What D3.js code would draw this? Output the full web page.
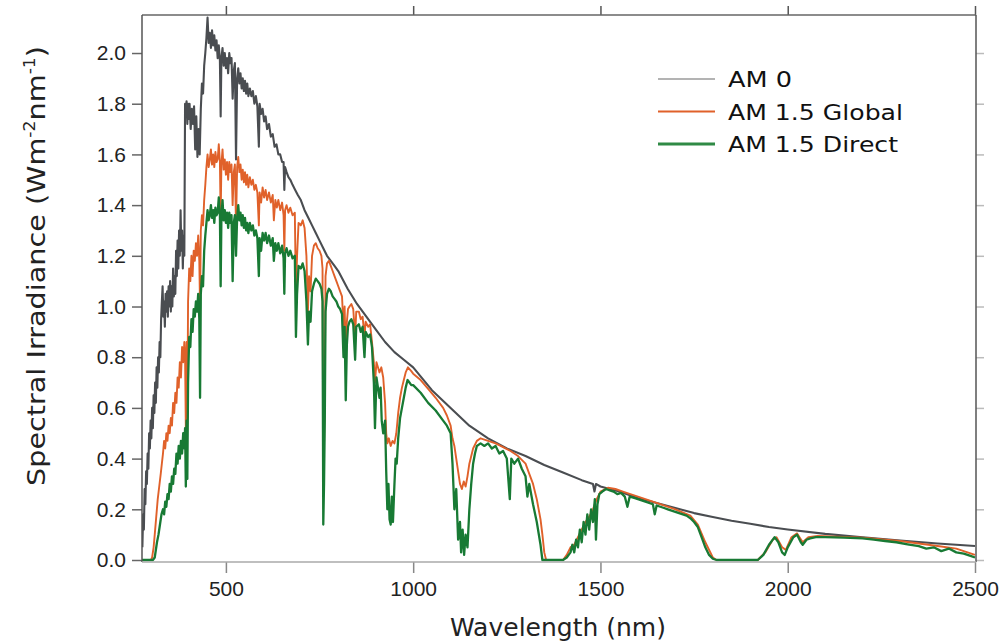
<!DOCTYPE html>
<html><head><meta charset="utf-8">
<script src="https://cdn.jsdelivr.net/npm/d3@7"></script>
<style>body{margin:0;background:#fff}svg{display:block}</style>
</head><body>
<svg id="c" width="1001" height="644"></svg>
<script>
// ---- data ----
const xTicks = [500, 1000, 1500, 2000, 2500];
const yTicks = [0, 0.2, 0.4, 0.6, 0.8, 1.0, 1.2, 1.4, 1.6, 1.8, 2.0];
const seriesNames = ["AM 0", "AM 1.5 Global", "AM 1.5 Direct"];
const xLabel = "Wavelength (nm)";

// [wavelength nm, spectral irradiance W m^-2 nm^-1]
const am0 = [[277,0.05],[279,0.18],[281,0.12],[283,0.28],[285,0.22],[287,0.35],[289,0.30],[291,0.42],[293,0.36],[295,0.50],[297,0.44],[299,0.55],[301,0.48],[303,0.60],[305,0.52],[307,0.65],[309,0.58],[311,0.70],[313,0.62],[315,0.76],[317,0.68],[319,0.80],[321,0.74],[323,0.86],[325,0.80],[327,0.95],[329,1.02],[331,1.08],[333,0.96],[335,1.02],[337,0.92],[339,1.05],[341,0.98],[343,1.06],[345,0.96],[347,1.08],[349,1.00],[351,1.10],[353,0.98],[355,1.08],[357,1.00],[359,1.15],[361,1.04],[363,1.12],[365,1.05],[367,1.22],[369,1.12],[371,1.26],[373,1.15],[375,1.30],[377,1.20],[379,1.38],[381,1.22],[383,1.30],[385,1.15],[387,1.28],[389,1.20],[391,1.80],[393,1.76],[395,1.81],[397,1.72],[399,1.80],[401,1.74],[403,1.80],[406,1.70],[409,1.78],[412,1.72],[415,1.79],[418,1.62],[421,1.75],[424,1.59],[427,1.70],[430,1.60],[433,1.78],[436,1.88],[439,1.84],[442,1.95],[445,2.00],[448,2.06],[451,2.14],[454,2.04],[457,2.08],[460,2.02],[463,2.09],[466,2.03],[469,2.07],[472,2.01],[475,2.05],[478,1.98],[481,2.03],[484,1.97],[486,1.75],[488,1.98],[491,2.02],[494,1.95],[497,2.00],[500,1.94],[503,1.98],[506,1.92],[509,2.00],[512,1.96],[515,1.98],[518,1.82],[521,1.93],[524,1.96],[527,1.58],[530,1.90],[533,1.94],[536,1.88],[539,1.92],[542,1.86],[545,1.90],[548,1.85],[551,1.89],[554,1.84],[557,1.88],[560,1.83],[564,1.86],[568,1.83],[572,1.85],[576,1.80],[580,1.83],[584,1.79],[588,1.63],[590,1.80],[594,1.76],[598,1.78],[602,1.73],[606,1.75],[610,1.70],[615,1.72],[620,1.67],[625,1.68],[630,1.63],[635,1.64],[640,1.60],[645,1.60],[650,1.57],[654,1.57],[656,1.46],[658,1.55],[662,1.53],[667,1.51],[672,1.50],[678,1.48],[685,1.46],[692,1.44],[700,1.42],[710,1.38],[720,1.35],[730,1.32],[740,1.29],[750,1.26],[760,1.23],[770,1.20],[780,1.18],[790,1.16],[800,1.14],[825,1.07],[850,1.01],[875,0.96],[900,0.91],[925,0.86],[950,0.82],[975,0.79],[1000,0.76],[1050,0.67],[1100,0.60],[1150,0.53],[1200,0.48],[1250,0.44],[1300,0.41],[1350,0.375],[1400,0.345],[1450,0.315],[1480,0.30],[1484,0.27],[1488,0.30],[1500,0.29],[1550,0.27],[1600,0.245],[1650,0.225],[1700,0.205],[1750,0.185],[1800,0.17],[1850,0.155],[1900,0.143],[1950,0.13],[2000,0.12],[2100,0.103],[2200,0.09],[2300,0.077],[2400,0.065],[2500,0.055]];

const amGlobal = [[276,0],[300,0],[303,0.01],[307,0.05],[310,0.10],[314,0.17],[318,0.24],[322,0.29],[326,0.34],[329,0.38],[332,0.42],[335,0.47],[338,0.44],[341,0.50],[344,0.47],[347,0.53],[350,0.50],[353,0.56],[356,0.53],[359,0.62],[362,0.58],[365,0.66],[368,0.62],[371,0.72],[374,0.68],[377,0.78],[380,0.72],[383,0.84],[386,0.78],[389,0.86],[391,0.80],[393,0.52],[395,0.86],[397,0.56],[399,1.02],[402,1.15],[405,1.10],[408,1.20],[411,1.12],[414,1.22],[417,1.18],[420,1.25],[423,1.20],[426,1.28],[429,1.18],[431,1.00],[433,1.30],[436,1.36],[439,1.32],[442,1.42],[445,1.48],[448,1.55],[451,1.60],[454,1.55],[457,1.58],[460,1.62],[463,1.56],[466,1.60],[469,1.55],[472,1.61],[475,1.57],[478,1.58],[481,1.64],[484,1.57],[486,1.35],[488,1.56],[491,1.62],[494,1.54],[497,1.58],[500,1.52],[503,1.57],[506,1.50],[509,1.57],[512,1.53],[515,1.56],[518,1.40],[521,1.53],[524,1.56],[527,1.32],[530,1.55],[533,1.59],[536,1.53],[539,1.56],[542,1.50],[545,1.54],[548,1.49],[551,1.53],[554,1.48],[557,1.52],[560,1.47],[564,1.51],[568,1.48],[572,1.50],[576,1.46],[580,1.48],[584,1.45],[588,1.32],[590,1.45],[594,1.41],[598,1.47],[602,1.43],[606,1.46],[610,1.42],[615,1.45],[620,1.41],[625,1.44],[628,1.34],[632,1.42],[636,1.39],[640,1.42],[645,1.38],[650,1.41],[654,1.36],[656,1.22],[658,1.38],[662,1.40],[667,1.37],[672,1.39],[678,1.36],[684,1.37],[687,1.05],[690,1.20],[694,1.33],[700,1.32],[705,1.34],[710,1.31],[715,1.20],[719,0.98],[722,1.12],[726,1.06],[730,1.20],[735,1.24],[740,1.25],[745,1.23],[750,1.22],[755,1.20],[758,1.15],[760,0.30],[762,0.45],[764,0.70],[766,1.12],[770,1.17],[775,1.18],[780,1.16],[785,1.14],[790,1.12],[795,1.10],[800,1.08],[805,1.06],[810,1.04],[814,0.92],[817,1.00],[820,0.80],[823,0.94],[826,0.99],[830,1.00],[835,1.01],[840,0.99],[845,0.88],[848,0.98],[855,0.98],[860,0.95],[865,0.96],[870,0.88],[873,0.94],[880,0.92],[885,0.93],[890,0.86],[895,0.78],[898,0.70],[902,0.78],[906,0.76],[910,0.74],[915,0.76],[920,0.72],[925,0.62],[928,0.50],[931,0.46],[935,0.48],[940,0.45],[945,0.47],[950,0.46],[955,0.50],[960,0.58],[965,0.64],[970,0.68],[975,0.71],[980,0.74],[986,0.76],[995,0.745],[1000,0.735],[1020,0.71],[1040,0.675],[1060,0.64],[1080,0.60],[1090,0.57],[1100,0.53],[1105,0.48],[1110,0.45],[1115,0.40],[1120,0.35],[1125,0.30],[1130,0.28],[1135,0.31],[1140,0.29],[1145,0.33],[1150,0.38],[1160,0.44],[1170,0.47],[1180,0.48],[1200,0.47],[1220,0.46],[1240,0.445],[1260,0.43],[1280,0.41],[1300,0.38],[1310,0.34],[1320,0.30],[1330,0.24],[1340,0.16],[1345,0.10],[1350,0.03],[1355,0],[1400,0],[1410,0.02],[1420,0.05],[1430,0.06],[1440,0.09],[1450,0.12],[1460,0.15],[1470,0.17],[1480,0.20],[1490,0.24],[1500,0.27],[1520,0.285],[1540,0.28],[1560,0.27],[1580,0.26],[1600,0.25],[1650,0.225],[1700,0.20],[1740,0.175],[1760,0.14],[1780,0.07],[1800,0.01],[1810,0],[1920,0],[1940,0.03],[1960,0.08],[1970,0.09],[1985,0.05],[1995,0.04],[2010,0.09],[2025,0.105],[2040,0.07],[2055,0.09],[2080,0.095],[2200,0.088],[2300,0.075],[2400,0.055],[2450,0.045],[2500,0.02]];

const amDirect = [[276,0],[305,0],[310,0.01],[316,0.07],[320,0.10],[324,0.14],[328,0.18],[332,0.20],[335,0.18],[338,0.23],[341,0.21],[344,0.26],[347,0.24],[350,0.30],[353,0.27],[356,0.33],[359,0.30],[362,0.36],[365,0.34],[368,0.42],[371,0.38],[374,0.45],[377,0.40],[380,0.47],[383,0.42],[386,0.50],[389,0.44],[391,0.52],[393,0.29],[395,0.55],[397,0.32],[399,0.70],[402,0.88],[405,0.84],[408,0.95],[411,0.90],[414,0.99],[417,0.96],[420,1.02],[423,0.98],[426,1.05],[429,0.95],[431,0.64],[433,1.05],[436,1.12],[439,1.08],[442,1.22],[445,1.28],[448,1.33],[451,1.38],[454,1.34],[457,1.36],[460,1.40],[463,1.35],[466,1.38],[469,1.33],[472,1.39],[475,1.36],[478,1.37],[481,1.43],[484,1.36],[486,1.08],[488,1.35],[491,1.42],[494,1.34],[497,1.38],[500,1.33],[503,1.37],[506,1.31],[509,1.37],[512,1.33],[515,1.36],[518,1.10],[521,1.33],[524,1.36],[527,1.20],[530,1.35],[533,1.40],[536,1.34],[539,1.37],[542,1.32],[545,1.36],[548,1.31],[551,1.35],[554,1.30],[557,1.33],[560,1.29],[564,1.33],[568,1.30],[572,1.32],[576,1.28],[580,1.30],[584,1.27],[588,1.12],[590,1.27],[594,1.22],[598,1.29],[602,1.26],[606,1.29],[610,1.25],[615,1.28],[620,1.24],[625,1.27],[628,1.18],[632,1.25],[636,1.22],[640,1.25],[645,1.21],[650,1.24],[654,1.19],[656,1.05],[658,1.21],[662,1.23],[667,1.20],[672,1.22],[678,1.19],[684,1.20],[687,0.88],[690,1.05],[694,1.16],[700,1.15],[705,1.17],[710,1.14],[715,1.02],[719,0.85],[722,0.98],[726,0.94],[730,1.06],[735,1.09],[740,1.11],[745,1.10],[750,1.09],[755,1.07],[758,1.02],[760,0.14],[762,0.30],[764,0.55],[766,0.98],[770,1.05],[775,1.07],[780,1.06],[785,1.04],[790,1.03],[795,1.02],[800,1.00],[805,0.99],[810,0.97],[814,0.80],[817,0.92],[820,0.63],[823,0.85],[826,0.92],[830,0.94],[835,0.95],[840,0.93],[845,0.79],[848,0.92],[855,0.93],[860,0.90],[865,0.92],[870,0.80],[873,0.90],[880,0.88],[885,0.89],[890,0.84],[895,0.70],[898,0.52],[902,0.72],[906,0.68],[910,0.64],[913,0.68],[916,0.55],[920,0.50],[925,0.55],[928,0.35],[931,0.20],[934,0.30],[937,0.16],[940,0.14],[943,0.25],[946,0.15],[950,0.30],[953,0.40],[956,0.38],[960,0.48],[965,0.56],[970,0.60],[975,0.64],[980,0.68],[985,0.71],[990,0.70],[995,0.69],[1000,0.69],[1020,0.66],[1040,0.62],[1060,0.59],[1080,0.55],[1090,0.53],[1100,0.50],[1105,0.38],[1110,0.20],[1115,0.28],[1120,0.08],[1125,0.15],[1128,0.03],[1132,0.12],[1136,0.02],[1140,0.10],[1145,0.05],[1150,0.20],[1155,0.30],[1160,0.38],[1165,0.42],[1170,0.45],[1180,0.46],[1190,0.45],[1200,0.46],[1210,0.44],[1220,0.45],[1230,0.42],[1240,0.43],[1250,0.40],[1258,0.24],[1262,0.40],[1270,0.38],[1280,0.40],[1290,0.36],[1300,0.33],[1305,0.25],[1310,0.30],[1320,0.22],[1330,0.15],[1340,0.06],[1345,0],[1400,0],[1410,0.01],[1420,0.03],[1425,0.06],[1430,0.03],[1435,0.08],[1440,0.05],[1445,0.12],[1450,0.07],[1455,0.15],[1460,0.10],[1465,0.18],[1470,0.12],[1475,0.20],[1480,0.15],[1485,0.24],[1488,0.08],[1492,0.22],[1497,0.26],[1505,0.27],[1515,0.28],[1525,0.275],[1535,0.27],[1545,0.26],[1555,0.265],[1565,0.25],[1572,0.21],[1578,0.25],[1590,0.245],[1600,0.24],[1610,0.235],[1620,0.23],[1630,0.225],[1640,0.22],[1645,0.18],[1650,0.215],[1660,0.21],[1670,0.205],[1680,0.20],[1690,0.195],[1700,0.19],[1710,0.185],[1720,0.18],[1730,0.175],[1740,0.165],[1750,0.15],[1760,0.13],[1770,0.09],[1780,0.05],[1790,0.02],[1800,0.005],[1810,0],[1920,0],[1935,0.02],[1950,0.06],[1965,0.09],[1975,0.07],[1985,0.03],[1992,0.02],[2000,0.05],[2015,0.09],[2025,0.10],[2035,0.07],[2040,0.06],[2050,0.08],[2060,0.085],[2075,0.09],[2100,0.09],[2150,0.088],[2200,0.085],[2230,0.08],[2260,0.075],[2290,0.07],[2320,0.062],[2350,0.055],[2370,0.045],[2390,0.05],[2410,0.035],[2430,0.045],[2450,0.03],[2470,0.025],[2490,0.015],[2500,0.01]];

// ---- drawing ----
const svg = d3.select("#c");
const L = 142, R = 976, T = 15, B = 562;
const x = d3.scaleLinear().domain([276, 2500]).range([L, 975]);
const y = d3.scaleLinear().domain([0, 2.15]).range([560, T]);

const tickFont = "'Liberation Sans', Arial, sans-serif";
const mainFont = "'DejaVu Sans', Verdana, sans-serif";

svg.append("defs").append("clipPath").attr("id", "clip")
  .append("rect").attr("x", L).attr("y", T).attr("width", R - L).attr("height", B - T);

const line = d3.line().x(d => x(d[0])).y(d => y(d[1]));
const plot = svg.append("g").attr("clip-path", "url(#clip)");
const styles = [
  {data: am0, color: "#4a4d51", w: 2.1},
  {data: amGlobal, color: "#e0612a", w: 1.9},
  {data: amDirect, color: "#187a34", w: 2.3}
];
styles.forEach(s => {
  plot.append("path").datum(s.data).attr("d", line)
    .attr("fill", "none").attr("stroke", s.color)
    .attr("stroke-width", s.w).attr("stroke-linejoin", "round");
});

// axes
function styleAxis(g, col) {
  g.select(".domain").remove();
  g.selectAll(".tick line").attr("stroke", col).attr("stroke-width", 1.5);
  g.selectAll(".tick text").attr("fill", "#222").style("font-family", tickFont).style("font-size", "21px");
}
const gB = svg.append("g").attr("transform", `translate(0,${B})`)
  .call(d3.axisBottom(x).tickValues(xTicks).tickSizeInner(11).tickSizeOuter(0).tickPadding(8).tickFormat(d3.format("d")));
styleAxis(gB, "#888");
const gT = svg.append("g").attr("transform", `translate(0,${T})`)
  .call(d3.axisTop(x).tickValues(xTicks).tickSizeInner(9).tickSizeOuter(0).tickFormat(""));
styleAxis(gT, "#555");
const gL = svg.append("g").attr("transform", `translate(${L},0)`)
  .call(d3.axisLeft(y).tickValues(yTicks).tickSizeInner(10).tickSizeOuter(0).tickPadding(6).tickFormat(d3.format(".1f")));
styleAxis(gL, "#666");
const gR = svg.append("g").attr("transform", `translate(${R},0)`)
  .call(d3.axisRight(y).tickValues(yTicks).tickSizeInner(8).tickSizeOuter(0).tickFormat(""));
styleAxis(gR, "#bbb");

// frame
svg.append("line").attr("x1", L).attr("x2", R).attr("y1", T).attr("y2", T).attr("stroke", "#666").attr("stroke-width", 1.5);
svg.append("line").attr("x1", L).attr("x2", L).attr("y1", T).attr("y2", B).attr("stroke", "#555").attr("stroke-width", 1.5);
svg.append("line").attr("x1", R).attr("x2", R).attr("y1", T).attr("y2", B).attr("stroke", "#555").attr("stroke-width", 1.5);
svg.append("line").attr("x1", L).attr("x2", R).attr("y1", B).attr("y2", B).attr("stroke", "#aaa").attr("stroke-width", 1.5);

// axis titles
svg.append("text").attr("x", 558).attr("y", 636).attr("text-anchor", "middle")
  .style("font-family", mainFont).style("font-size", "25px").attr("fill", "#222")
  .attr("textLength", 216).attr("lengthAdjust", "spacingAndGlyphs").text(xLabel);

const yt = svg.append("text").attr("transform", "translate(45,266) rotate(-90)")
  .attr("text-anchor", "middle").style("font-family", mainFont).style("font-size", "25px").attr("fill", "#222")
  .attr("textLength", 440).attr("lengthAdjust", "spacingAndGlyphs");
yt.append("tspan").text("Spectral Irradiance (Wm");
yt.append("tspan").attr("dy", -10).style("font-size", "15px").text("-2");
yt.append("tspan").attr("dy", 10).text("nm");
yt.append("tspan").attr("dy", -10).style("font-size", "15px").text("-1");
yt.append("tspan").attr("dy", 10).text(")");

// legend
const legColors = ["#9a9a9a", "#e0612a", "#2f8a45"];
const legW = [1.5, 2, 3];
const legLen = [64, 175, 170];
seriesNames.forEach((n, i) => {
  const yy = 79 + i * 32.5;
  svg.append("line").attr("x1", 658).attr("x2", 715).attr("y1", yy).attr("y2", yy)
    .attr("stroke", legColors[i]).attr("stroke-width", legW[i]);
  svg.append("text").attr("x", 728).attr("y", yy + 8)
    .style("font-family", mainFont).style("font-size", "21px").attr("fill", "#111")
    .attr("textLength", legLen[i]).attr("lengthAdjust", "spacingAndGlyphs").text(n);
});
</script>
</body></html>
